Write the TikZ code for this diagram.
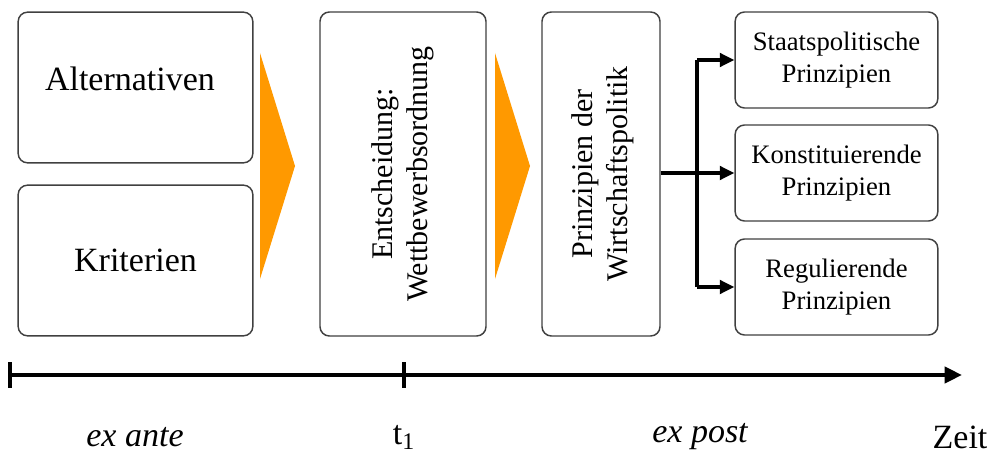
\documentclass[tikz,border=0pt]{standalone}
\usepackage{fontspec}
\setmainfont{Liberation Serif}
\usetikzlibrary{arrows.meta}
\definecolor{boxline}{HTML}{404040}
\definecolor{flow}{HTML}{FF9900}
\tikzset{
  rbox/.style={draw=boxline, line width=1.1pt, rounded corners=7pt, fill=white, inner sep=0pt, align=center},
  bigtext/.style={font=\fontsize{25.5}{30}\selectfont},
  midtext/.style={font=\fontsize{22.5}{26}\selectfont},
  smalltext/.style={font=\fontsize{20}{24.5}\selectfont},
  conn/.style={line width=3pt, -{Triangle[length=11pt,width=10pt]}},
  label/.style={font=\fontsize{25.5}{30}\selectfont, inner sep=0pt}
}
\begin{document}
\begin{tikzpicture}[x=0.75pt,y=-0.75pt]
\useasboundingbox (0,0) rectangle (997,453);
% left boxes
\node[rbox, minimum width=176pt, minimum height=113pt] (A) at (135.5,87.5) {};
\node[bigtext] (At) at (130,79) {Alternativen};
\node[rbox, bigtext, minimum width=176pt, minimum height=113pt] (K) at (135.5,260.5) {Kriterien};
% flow triangles
\fill[flow] (260,53) -- (295,166) -- (260,279) -- cycle;
% decision box
\node[rbox, minimum width=124.5pt, minimum height=243pt] (E) at (403,174) {};
\node[midtext, rotate=90, align=center] (Et) at (E.center) {Entscheidung:\\Wettbewerbsordnung};
\fill[flow] (495,53) -- (530,166) -- (495,279) -- cycle;
% principles box
\node[rbox, minimum width=88.5pt, minimum height=243pt] (P) at (601,174) {};
\node[midtext, rotate=90, align=center] (Pt) at ([xshift=1.5pt]P.center) {Prinzipien der\\Wirtschaftspolitik};
% right boxes
\node[rbox, smalltext, minimum width=152pt, minimum height=72pt] (S1) at (836.5,60) {Staatspolitische\\Prinzipien};
\node[rbox, smalltext, minimum width=152pt, minimum height=72pt] (S2) at (836.5,173) {Konstituierende\\Prinzipien};
\node[rbox, smalltext, minimum width=152pt, minimum height=72pt] (S3) at (836.5,287) {Regulierende\\Prinzipien};
% connectors
\coordinate (j) at (697,173);
\draw[line width=3pt] (P.east |- j) -- (j);
\draw[line width=3pt] (j |- S1.west) -- (j |- S3.west);
\draw[conn] (j |- S1.west) -- (S1.west);
\draw[conn] (j) -- (S2.west);
\draw[conn] (j |- S3.west) -- (S3.west);
% timeline
\coordinate (t0) at (10,375);
\coordinate (t1) at (404,375);
\coordinate (tend) at (962,375);
\draw[line width=3pt, -{Triangle[length=13pt,width=12pt]}] (t0) -- (tend);
\draw[line width=3pt] ([yshift=9.5pt]t0) -- ([yshift=-9.5pt]t0);
\draw[line width=3pt] ([yshift=9.5pt]t1) -- ([yshift=-9.5pt]t1);
% labels
\node[label] (la) at (135,437) {\itshape ex ante};
\node[label] (lt) at (404,437) {t\textsubscript{1}};
\node[label] (lp) at (700,437) {\itshape ex post};
\node[label] (lz) at (960,437) {Zeit};
\end{tikzpicture}
\end{document}
